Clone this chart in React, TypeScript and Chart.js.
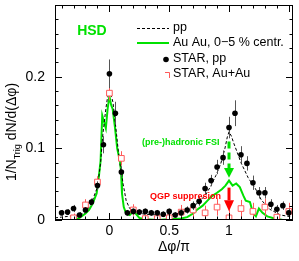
import { useEffect, useRef } from "react";
import { Chart, registerables } from "chart.js";

Chart.register(...registerables);

const FONT = "'Liberation Sans', Arial, Helvetica, sans-serif";
const GREEN = "rgb(0,225,0)";
const RED = "rgb(255,0,0)";
const SQUARE_RED = "rgb(255,90,90)";

// Axis tick labels
const xTickValues = [0, 0.5, 1];
const xTickLabels = ["0", "0.5", "1"];
const yTickValues = [0, 0.1, 0.2];
const yTickLabels = ["0", "0.1", "0.2"];

// STAR p+p (filled circles)
const starPpX = [-0.4, -0.35, -0.3, -0.25, -0.2, -0.15, -0.1, -0.05, 0, 0.05, 0.1, 0.15, 0.2, 0.25, 0.3, 0.35, 0.4, 0.45, 0.5, 0.55, 0.6, 0.65, 0.7, 0.75, 0.8, 0.85, 0.9, 0.95, 1.0, 1.05, 1.1, 1.15, 1.2, 1.25, 1.3, 1.35, 1.4, 1.45, 1.5];
const starPpY = [0.010, 0.011, 0.016, 0.007, 0.014, 0.025, 0.048, 0.105, 0.204, 0.149, 0.067, 0.010, 0.012, 0.011, 0.012, 0.010, 0.010, 0.008, 0.012, 0.007, 0.010, 0.014, 0.020, 0.026, 0.044, 0.055, 0.074, 0.087, 0.129, 0.149, 0.091, 0.079, 0.052, 0.038, 0.038, 0.022, 0.015, 0.020, 0.010];
const starPpErr = [0.004, 0.004, 0.005, 0.004, 0.004, 0.005, 0.006, 0.012, 0.020, 0.016, 0.008, 0.004, 0.004, 0.004, 0.004, 0.004, 0.004, 0.004, 0.004, 0.004, 0.005, 0.005, 0.006, 0.006, 0.008, 0.008, 0.010, 0.010, 0.015, 0.018, 0.012, 0.010, 0.010, 0.008, 0.008, 0.007, 0.006, 0.006, 0.006];

// STAR Au+Au (open squares)
const starAuX = [-0.3, -0.2, -0.1, 0, 0.1, 0.2, 0.3, 0.4, 0.5, 0.6, 0.7, 0.8, 0.9, 1.0, 1.1, 1.2, 1.3, 1.4, 1.5];
const starAuY = [0.003, 0.021, 0.053, 0.177, 0.086, 0.014, 0.002, 0.002, 0.003, 0.011, 0.014, 0.010, 0.018, 0.003, 0.016, 0.012, 0.018, 0.004, 0.012];
const starAuErr = [0.006, 0.008, 0.008, 0.010, 0.010, 0.008, 0.006, 0.006, 0.006, 0.010, 0.010, 0.010, 0.012, 0.012, 0.012, 0.012, 0.012, 0.012, 0.012];

// HSD p+p curve (dashed)
const hsdPpCurve = [
  [-0.455, 0.003], [-0.4, 0.004], [-0.35, 0.005], [-0.3, 0.006], [-0.25, 0.007], [-0.2, 0.010], [-0.15, 0.024], [-0.1, 0.046], [-0.075, 0.078], [-0.055, 0.119], [-0.03, 0.155], [-0.015, 0.172], [0, 0.18], [0.015, 0.174], [0.03, 0.164], [0.06, 0.119], [0.08, 0.087], [0.115, 0.05], [0.14, 0.027], [0.17, 0.016], [0.23, 0.010], [0.3, 0.008], [0.4, 0.007], [0.5, 0.007], [0.6, 0.010], [0.65, 0.013], [0.7, 0.018], [0.75, 0.026], [0.8, 0.034], [0.85, 0.048], [0.89, 0.062], [0.93, 0.078], [0.966, 0.100], [0.986, 0.116], [1.0, 0.123], [1.02, 0.117], [1.04, 0.107], [1.065, 0.096], [1.1, 0.080], [1.16, 0.059], [1.22, 0.044], [1.27, 0.028], [1.34, 0.015], [1.43, 0.007], [1.535, 0.004],
];

// HSD Au+Au 0-5% curve (green)
const hsdAuCurve = [
  [-0.455, 0], [-0.3, 0], [-0.25, 0.003], [-0.2, 0.009], [-0.17, 0.014], [-0.14, 0.023], [-0.107, 0.037], [-0.094, 0.052], [-0.074, 0.082], [-0.06, 0.146], [-0.03, 0.128], [-0.015, 0.155], [0, 0.173], [0.015, 0.16], [0.027, 0.155], [0.046, 0.13], [0.065, 0.10], [0.088, 0.082], [0.097, 0.068], [0.105, 0.037], [0.12, 0.018], [0.14, 0.009], [0.17, 0.007], [0.2, 0.012], [0.22, 0.009], [0.25, 0.003], [0.3, 0.001], [0.4, 0], [0.5, 0.001], [0.6, 0.002], [0.65, 0.004], [0.7, 0.009], [0.73, 0.014], [0.78, 0.02], [0.82, 0.027], [0.855, 0.033], [0.9, 0.038], [0.94, 0.043], [0.97, 0.048], [1.0, 0.055], [1.03, 0.048], [1.06, 0.051], [1.09, 0.046], [1.12, 0.034], [1.14, 0.027], [1.175, 0.025], [1.2, 0.01], [1.225, 0.005], [1.25, 0.016], [1.28, 0.01], [1.32, 0.005], [1.38, 0.002], [1.45, 0], [1.535, 0],
];

const X_MIN = -0.455;
const X_MAX = 1.535;
const Y_MIN = 0;
const Y_MAX = 0.3;

const errorBarPlugin = {
  id: "errorBars",
  beforeDatasetDraw(chart: any, args: any) {
    const ds = chart.data.datasets[args.index];
    if (!ds.errors) return;
    const { ctx, chartArea } = chart;
    const xs = chart.scales.x;
    const ys = chart.scales.y;
    ctx.save();
    ctx.beginPath();
    ctx.rect(chartArea.left, chartArea.top, chartArea.right - chartArea.left, chartArea.bottom - chartArea.top);
    ctx.clip();
    ctx.strokeStyle = ds.errorColor;
    ctx.lineWidth = 1;
    ds.data.forEach((p: any, i: number) => {
      const e = ds.errors[i];
      const px = Math.round(xs.getPixelForValue(p.x)) + 0.5;
      ctx.beginPath();
      ctx.moveTo(px, ys.getPixelForValue(p.y - e));
      ctx.lineTo(px, ys.getPixelForValue(p.y + e));
      ctx.stroke();
    });
    ctx.restore();
  },
};

function arrow(ctx: any, x: number, y0: number, y1: number, tipY: number, color: string, dash: number[], halfW: number) {
  ctx.save();
  ctx.strokeStyle = color;
  ctx.fillStyle = color;
  ctx.lineWidth = 3;
  ctx.setLineDash(dash);
  ctx.beginPath();
  ctx.moveTo(x, y0);
  ctx.lineTo(x, y1);
  ctx.stroke();
  ctx.setLineDash([]);
  ctx.beginPath();
  ctx.moveTo(x - halfW, y1);
  ctx.lineTo(x + halfW, y1);
  ctx.lineTo(x, tipY);
  ctx.closePath();
  ctx.fill();
  ctx.restore();
}

const framePlugin = {
  id: "rootFrame",
  afterDraw(chart: any) {
    const { ctx, chartArea } = chart;
    const xs = chart.scales.x;
    const ys = chart.scales.y;
    const L = chartArea.left, R = chartArea.right, T = chartArea.top, B = chartArea.bottom;

    // annotations
    const ax = xs.getPixelForValue(1.0);
    arrow(ctx, ax, ys.getPixelForValue(0.1096), ys.getPixelForValue(0.0726), ys.getPixelForValue(0.0589), GREEN, [7, 4], 5);
    arrow(ctx, ax, ys.getPixelForValue(0.0452), ys.getPixelForValue(0.0274), ys.getPixelForValue(0.0123), RED, [], 5);

    ctx.save();
    ctx.textBaseline = "middle";
    ctx.textAlign = "left";
    ctx.fillStyle = GREEN;
    ctx.font = `bold 9px ${FONT}`;
    ctx.fillText("(pre-)hadronic FSI", xs.getPixelForValue(0.272), ys.getPixelForValue(0.108));
    ctx.fillStyle = RED;
    ctx.fillText("QGP suppresion", xs.getPixelForValue(0.339), ys.getPixelForValue(0.033));
    ctx.fillStyle = GREEN;
    ctx.font = `bold 14px ${FONT}`;
    ctx.textAlign = "center";
    ctx.fillText("HSD", xs.getPixelForValue(-0.146), ys.getPixelForValue(0.264));
    ctx.restore();

    // frame
    ctx.save();
    ctx.strokeStyle = "#000";
    ctx.lineWidth = 1;
    ctx.strokeRect(Math.round(L) + 0.5, Math.round(T) + 0.5, Math.round(R - L) - 1, Math.round(B - T) - 1);
    ctx.beginPath();
    const MAJ = 7, MIN = 3.5;
    for (let i = -4; i <= 15; i++) {
      const v = i / 10;
      const px = Math.round(xs.getPixelForValue(v)) + 0.5;
      const len = i % 5 === 0 ? MAJ : MIN;
      ctx.moveTo(px, B); ctx.lineTo(px, B - len);
      ctx.moveTo(px, T); ctx.lineTo(px, T + len);
    }
    for (let i = 0; i <= 15; i++) {
      const v = i / 50;
      const py = Math.round(ys.getPixelForValue(v)) + 0.5;
      const len = i % 5 === 0 ? MAJ : MIN;
      ctx.moveTo(L, py); ctx.lineTo(L + len, py);
      ctx.moveTo(R, py); ctx.lineTo(R - len, py);
    }
    ctx.stroke();
    ctx.restore();

    // axis titles
    ctx.save();
    ctx.fillStyle = "#000";
    ctx.font = `14px ${FONT}`;
    ctx.textAlign = "center";
    ctx.textBaseline = "middle";
    ctx.fillText("\u0394\u03c6/\u03c0", (L + R) / 2, 247);

    ctx.translate(11, 132);
    ctx.rotate(-Math.PI / 2);
    ctx.textAlign = "left";
    ctx.textBaseline = "alphabetic";
    const main = `14px ${FONT}`;
    const sub = `9px ${FONT}`;
    const p1 = "1/N", p2 = "Trig", p3 = " dN/d(\u0394\u03c6)";
    ctx.font = main; const w1 = ctx.measureText(p1).width; const w3 = ctx.measureText(p3).width;
    ctx.font = sub; const w2 = ctx.measureText(p2).width;
    let x0 = -(w1 + w2 + w3) / 2;
    const base = 5;
    ctx.font = main; ctx.fillText(p1, x0, base); x0 += w1;
    ctx.font = sub; ctx.fillText(p2, x0, base + 4); x0 += w2;
    ctx.font = main; ctx.fillText(p3, x0, base);
    ctx.restore();

    // legend
    ctx.save();
    ctx.lineWidth = 1;
    ctx.strokeStyle = "#000";
    ctx.setLineDash([3, 2]);
    ctx.beginPath(); ctx.moveTo(137, 28.5); ctx.lineTo(169, 28.5); ctx.stroke();
    ctx.setLineDash([]);
    ctx.strokeStyle = GREEN; ctx.lineWidth = 2;
    ctx.beginPath(); ctx.moveTo(137, 43); ctx.lineTo(169, 43); ctx.stroke();
    ctx.fillStyle = "#000";
    ctx.beginPath(); ctx.arc(166, 59.5, 2.8, 0, Math.PI * 2); ctx.fill();
    ctx.strokeStyle = SQUARE_RED; ctx.lineWidth = 1;
    ctx.beginPath(); ctx.moveTo(165, 72.5); ctx.lineTo(169.5, 72.5); ctx.lineTo(169.5, 78); ctx.stroke();
    ctx.fillStyle = "#000";
    ctx.font = `12.5px ${FONT}`;
    ctx.textAlign = "left";
    ctx.textBaseline = "middle";
    ctx.fillText("pp", 173, 28);
    ctx.fillText("Au Au, 0\u22125 % centr.", 173, 43);
    ctx.fillText("STAR, pp", 173, 59);
    ctx.fillText("STAR, Au+Au", 173, 74);
    ctx.restore();
  },
};

export default function App() {
  const ref = useRef<HTMLCanvasElement>(null);
  useEffect(() => {
    const tickFont = { family: FONT, size: 14 };
    const chart = new Chart(ref.current as HTMLCanvasElement, {
      type: "scatter",
      data: {
        datasets: [
          {
            type: "scatter",
            label: "STAR, pp",
            data: starPpX.map((x, i) => ({ x, y: starPpY[i] })),
            errors: starPpErr,
            errorColor: "#555",
            pointStyle: "circle",
            pointRadius: 2.8,
            pointBackgroundColor: "#000",
            pointBorderWidth: 0,
            order: 1,
            clip: 0,
          } as any,
          {
            type: "scatter",
            label: "STAR, Au+Au",
            data: starAuX.map((x, i) => ({ x, y: starAuY[i] })),
            errors: starAuErr,
            errorColor: SQUARE_RED,
            pointStyle: "rect",
            pointRadius: 4,
            pointBackgroundColor: "#fff",
            pointBorderColor: SQUARE_RED,
            pointBorderWidth: 1,
            order: 2,
            clip: 0,
          } as any,
          {
            type: "line",
            label: "pp",
            data: hsdPpCurve.map(([x, y]) => ({ x, y })),
            borderColor: "#000",
            borderWidth: 1,
            borderDash: [3, 2],
            pointRadius: 0,
            tension: 0,
            fill: false,
            order: 3,
            clip: 0,
          } as any,
          {
            type: "line",
            label: "Au Au, 0-5 % centr.",
            data: hsdAuCurve.map(([x, y]) => ({ x, y })),
            borderColor: GREEN,
            borderWidth: 2,
            pointRadius: 0,
            tension: 0,
            fill: false,
            order: 4,
            clip: 0,
          } as any,
        ],
      },
      options: {
        animation: false,
        responsive: false,
        layout: { padding: { left: 0, top: 1, right: 6, bottom: 0 } },
        plugins: { legend: { display: false }, tooltip: { enabled: false } },
        scales: {
          x: {
            type: "linear",
            min: X_MIN,
            max: X_MAX,
            grid: { display: false, drawTicks: false, tickLength: 0 },
            border: { display: false },
            afterBuildTicks: (s: any) => { s.ticks = xTickValues.map((v) => ({ value: v })); },
            afterFit: (s: any) => { s.height = 41; s.paddingLeft = 0; s.paddingRight = 0; },
            ticks: {
              font: tickFont,
              color: "#000",
              padding: 3,
              maxRotation: 0,
              autoSkip: false,
              callback: (v: any) => xTickLabels[xTickValues.indexOf(Number(v))] ?? "",
            },
          },
          y: {
            type: "linear",
            min: Y_MIN,
            max: Y_MAX,
            grid: { display: false, drawTicks: false, tickLength: 0 },
            border: { display: false },
            afterBuildTicks: (s: any) => { s.ticks = yTickValues.map((v) => ({ value: v })); },
            afterFit: (s: any) => { s.width = 55; s.paddingTop = 0; s.paddingBottom = 0; },
            ticks: {
              font: tickFont,
              color: "#000",
              padding: 10,
              autoSkip: false,
              callback: (v: any) => yTickLabels[yTickValues.indexOf(Number(v))] ?? "",
            },
          },
        },
      } as any,
      plugins: [errorBarPlugin, framePlugin],
    });
    return () => chart.destroy();
  }, []);
  return (
    <div style={{ position: "absolute", left: 0, top: 0, width: 299, height: 261, background: "#fff" }}>
      <canvas ref={ref} width={299} height={261} style={{ width: 299, height: 261, display: "block" }} />
    </div>
  );
}
